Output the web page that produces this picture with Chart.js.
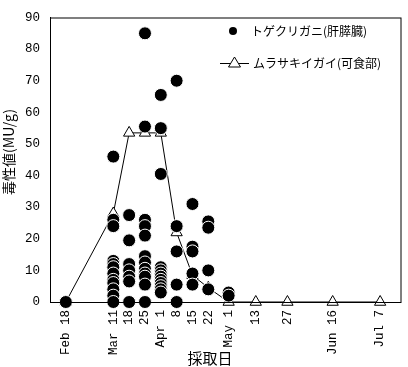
<!DOCTYPE html>
<html>
<head>
<meta charset="utf-8">
<script src="https://cdn.jsdelivr.net/npm/chart.js@4.4.1/dist/chart.umd.min.js"></script>
<style>
  body { margin: 0; background: #fff; }
  #wrap { width: 408px; height: 367px; }
</style>
</head>
<body>
<div id="wrap"><canvas id="myChart"></canvas></div>
<script>
// 採取日 (Feb 18 からの日数) と目盛りラベル
const tickDays   = [0, 21, 28, 35, 42, 49, 56, 63, 72, 84, 98, 118, 139];
const tickLabels = ['Feb 18', 'Mar 11', '18', '25', 'Apr 1', '8', '15', '22', 'May 1', '13', '27', 'Jun 16', 'Jul 7'];
const yTicks     = [0, 10, 20, 30, 40, 50, 60, 70, 80, 90];

// トゲクリガニ(肝膵臓) 個体ごとの毒性値
const crabDays = [
    0,
    21, 21, 21, 21, 21, 21, 21, 21, 21, 21, 21, 21,
    28, 28, 28, 28, 28, 28, 28,
    35, 35, 35, 35, 35, 35, 35, 35, 35, 35, 35, 35,
    42, 42, 42, 42, 42, 42, 42, 42, 42, 42, 42, 42,
    49, 49, 49, 49, 49,
    56, 56, 56, 56, 56,
    63, 63, 63, 63,
    72, 72
];
const crabToxicity = [
    0,
    46, 26, 24, 13, 12, 11, 9, 7, 6, 4, 2, 0,
    27.5, 19.5, 12, 10, 8, 6.5, 0,
    85, 55.5, 26, 24, 21, 14.5, 12.5, 10.5, 9, 8, 5.5, 0,
    65.5, 55, 40.5, 11, 10, 9, 8, 7, 6, 5, 4, 3,
    70, 24, 16, 5.5, 0,
    31, 17.5, 16, 9, 5.5,
    25.5, 23.5, 10, 4,
    3, 2
];

// ムラサキイガイ(可食部)
const musselDays     = [0, 21, 28, 35, 42, 49, 56, 63, 72, 84, 98, 118, 139];
const musselToxicity = [0, 28, 53.5, 53.5, 53.5, 22, 8.5, 4.5, 0, 0, 0, 0, 0];

const JP_FONT = '"Noto Sans CJK JP", sans-serif';
const NUM_FONT = '"Liberation Mono", monospace';

// 枠線・凡例・軸タイトル
const framePlugin = {
    id: 'frame',
    afterDraw(chart) {
        const { ctx, chartArea: a } = chart;
        ctx.save();
        ctx.strokeStyle = '#000';
        ctx.lineWidth = 1;
        ctx.strokeRect(a.left + 0.5, a.top + 0.5, a.right - a.left, a.bottom - a.top);

        // 凡例
        ctx.fillStyle = '#000';
        ctx.beginPath();
        ctx.arc(233, 31, 4, 0, Math.PI * 2);
        ctx.fill();
        ctx.beginPath();
        ctx.moveTo(220, 63.5);
        ctx.lineTo(249, 63.5);
        ctx.stroke();
        ctx.beginPath();
        ctx.moveTo(234.5, 57);
        ctx.lineTo(240.5, 67);
        ctx.lineTo(228.5, 67);
        ctx.closePath();
        ctx.fillStyle = '#fff';
        ctx.fill();
        ctx.stroke();
        ctx.fillStyle = '#000';
        ctx.font = '12px ' + JP_FONT;
        ctx.textBaseline = 'middle';
        ctx.textAlign = 'left';
        ctx.fillText('トゲクリガニ(肝膵臓)', 251, 31);
        ctx.fillText('ムラサキイガイ(可食部)', 253, 63);

        // 軸タイトル
        ctx.font = '15px ' + JP_FONT;
        ctx.textAlign = 'center';
        ctx.fillText('採取日', 210, 358);
        ctx.translate(9, 152);
        ctx.rotate(-Math.PI / 2);
        ctx.font = '14px ' + JP_FONT;
        ctx.fillText('毒性値(MU/g)', 0, 0);
        ctx.restore();
    }
};

new Chart(document.getElementById('myChart'), {
    type: 'scatter',
    data: {
        datasets: [{
            label: 'トゲクリガニ(肝膵臓)',
            data: crabDays.map((d, i) => ({ x: d, y: crabToxicity[i] })),
            pointStyle: 'circle',
            pointRadius: 6.5,
            pointBackgroundColor: '#000',
            pointBorderColor: '#fff',
            pointBorderWidth: 1,
            showLine: false,
            clip: false
        }, {
            label: 'ムラサキイガイ(可食部)',
            data: musselDays.map((d, i) => ({ x: d, y: musselToxicity[i] })),
            pointStyle: 'triangle',
            pointRadius: 6.5,
            pointBackgroundColor: '#fff',
            pointBorderColor: '#000',
            pointBorderWidth: 1,
            showLine: true,
            borderColor: '#000',
            borderWidth: 1,
            tension: 0,
            clip: false
        }]
    },
    options: {
        responsive: true,
        maintainAspectRatio: false,
        animation: false,
        layout: { padding: { top: 5, right: 3, left: 0, bottom: 0 } },
        plugins: {
            legend: { display: false },
            tooltip: { enabled: false }
        },
        scales: {
            x: {
                type: 'linear',
                min: -7,
                max: 148,
                afterFit(scale) { scale.height = 65; },
                afterBuildTicks(scale) { scale.ticks = tickDays.map(v => ({ value: v })); },
                grid: { display: false, drawTicks: false },
                border: { display: true, color: '#000' },
                ticks: {
                    autoSkip: false,
                    minRotation: 90,
                    maxRotation: 90,
                    padding: 8,
                    color: '#000',
                    font: { family: NUM_FONT, size: 12.5 },
                    callback: (v) => tickLabels[tickDays.indexOf(v)]
                }
            },
            y: {
                min: 0,
                max: 90,
                afterFit(scale) { scale.width = 50; },
                afterBuildTicks(scale) { scale.ticks = yTicks.map(v => ({ value: v })); },
                grid: { display: false, drawTicks: false },
                border: { display: true, color: '#000' },
                ticks: {
                    padding: 10,
                    color: '#000',
                    font: { family: NUM_FONT, size: 12.5 }
                }
            }
        }
    },
    plugins: [framePlugin]
});
</script>
</body>
</html>
